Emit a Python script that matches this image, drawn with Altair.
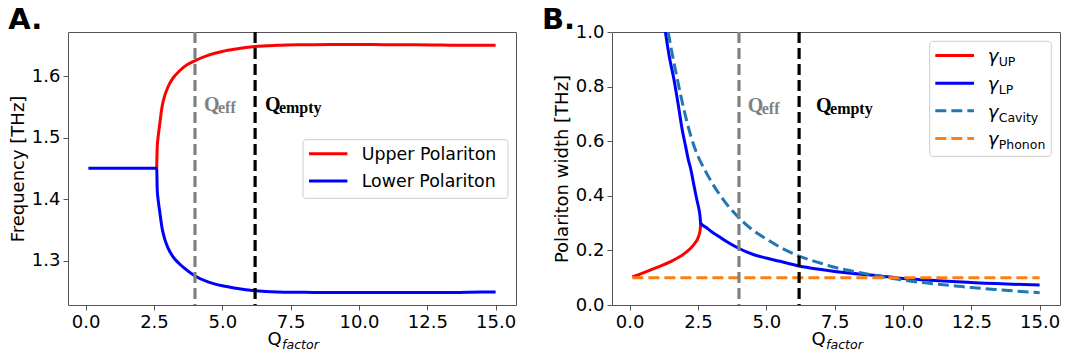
import altair as alt
import pandas as pd

# ---------------- data ----------------
# Panel A : polariton frequencies
q_flat = [0.1, 1.0, 2.0, 2.6]
f_flat = [1.45, 1.45, 1.45, 1.45]
q_split = [2.6, 2.62, 2.65, 2.7, 2.8, 2.9, 3.0, 3.2, 3.4, 3.6, 4.0, 4.5, 5.0, 5.5,
           6.2, 7.0, 8.0, 9.0, 10.0, 11.0, 12.0, 13.0, 14.0, 15.0]
f_upper = [1.450, 1.485, 1.500, 1.518, 1.551, 1.569, 1.581, 1.597, 1.607, 1.615,
           1.625, 1.634, 1.640, 1.644, 1.648, 1.650, 1.651, 1.6515, 1.6515, 1.651,
           1.651, 1.6505, 1.650, 1.650]
f_lower = [1.450, 1.415, 1.400, 1.383, 1.352, 1.334, 1.322, 1.306, 1.296, 1.288,
           1.275, 1.265, 1.259, 1.255, 1.251, 1.249, 1.2485, 1.248, 1.248, 1.248,
           1.248, 1.248, 1.2485, 1.249]

# Panel B : widths
q_up = [0.1, 0.5, 1.0, 1.5, 2.0, 2.25, 2.4, 2.5, 2.55, 2.58, 2.6]
g_up = [0.103, 0.118, 0.138, 0.159, 0.188, 0.21, 0.228, 0.245, 0.26, 0.275, 0.30]
q_lp = [1.31, 1.45, 1.62, 1.8, 1.92, 2.05, 2.16, 2.22, 2.35, 2.45, 2.5, 2.57, 2.6,
        2.8, 3.0, 3.25, 3.5, 4.0, 4.5, 5.0, 5.5, 6.2, 7.0, 7.5, 8.0, 9.0, 10.0,
        11.0, 12.0, 12.5, 13.0, 14.0, 15.0]
g_lp = [1.0, 0.91, 0.827, 0.72, 0.644, 0.58, 0.527, 0.505, 0.44, 0.39, 0.368, 0.33,
        0.30, 0.284, 0.268, 0.252, 0.235, 0.207, 0.186, 0.172, 0.16, 0.143, 0.13,
        0.123, 0.117, 0.108, 0.097, 0.091, 0.085, 0.082, 0.08, 0.076, 0.073]
q_cav = [1.41, 1.5, 1.75, 2.0, 2.25, 2.5, 2.75, 3.0, 3.5, 4.0, 4.5, 5.0, 5.5, 6.2,
         7.0, 7.5, 8.0, 9.0, 10.0, 11.0, 12.0, 12.5, 13.0, 14.0, 15.0]
g_cav = [1.0, 0.95, 0.825, 0.71, 0.615, 0.545, 0.495, 0.45, 0.376, 0.319, 0.275,
         0.242, 0.212, 0.179, 0.153, 0.138, 0.127, 0.108, 0.091, 0.079, 0.069,
         0.064, 0.06, 0.052, 0.045]
q_ph = [0.1, 15.0]
g_ph = [0.1, 0.1]

q_eff = 4.0
q_empty = 6.2

x_ticks = [0, 2.5, 5, 7.5, 10, 12.5, 15]
yA_ticks = [1.3, 1.4, 1.5, 1.6]
yB_ticks = [0.0, 0.2, 0.4, 0.6, 0.8, 1.0]

legendA_labels = ["Upper Polariton", "Lower Polariton"]
legendB_main = ["γ", "γ", "γ", "γ"]
legendB_sub = ["UP", "LP", "Cavity", "Phonon"]

# ---------------- styling ----------------
W, H = 448, 273
XDOM = [-0.645, 15.745]
YA_DOM = [1.2278, 1.6717]
YB_DOM = [0.0, 1.0]
FONT = "DejaVu Sans"
SERIF = "Liberation Serif"
RED, BLUE, CAV, PHO = "#ff0000", "#0000ff", "#1f77b4", "#ff7f0e"
LW = 3
DASH = [11, 5]


def xenc():
    return alt.X("q:Q", scale=alt.Scale(domain=XDOM, nice=False, zero=False),
                 axis=alt.Axis(title="", values=x_ticks, format=".1f"))


def yenc(dom, ticks, title):
    return alt.Y("v:Q", scale=alt.Scale(domain=dom, nice=False, zero=False),
                 axis=alt.Axis(title=title, values=ticks, format=".1f"))


def curve(q, v, color, ydom, yt, ytitle, dash=None):
    props = dict(color=color, strokeWidth=LW, clip=True, interpolate="monotone")
    if dash:
        props["strokeDash"] = dash
    df = pd.DataFrame({"q": q, "v": v})
    return alt.Chart(df).mark_line(**props).encode(x=xenc(), y=yenc(ydom, yt, ytitle))


def vline(q, color):
    return alt.Chart(pd.DataFrame({"q": [q]})).mark_rule(
        color=color, strokeWidth=3.2, strokeDash=DASH).encode(x=xenc())


def annot(qx, vy, main, sub, color, ydom, yt, ytitle):
    df = pd.DataFrame({"q": [qx], "v": [vy], "t": [main], "s": [sub]})
    a = alt.Chart(df).mark_text(align="left", baseline="alphabetic", font=SERIF,
                                fontWeight="bold", fontSize=20, color=color).encode(
        x=xenc(), y=yenc(ydom, yt, ytitle), text="t:N")
    b = alt.Chart(df).mark_text(align="left", baseline="alphabetic", font=SERIF,
                                fontWeight="bold", fontSize=16, color=color,
                                dx=14, dy=2).encode(
        x=xenc(), y=yenc(ydom, yt, ytitle), text="s:N")
    return [a, b]


def ptext(x, y, s, size, **kw):
    return alt.Chart(pd.DataFrame({"t": [s]})).mark_text(
        align="left", baseline="alphabetic", fontSize=size, **kw).encode(
        x=alt.value(x), y=alt.value(y), text="t:N")


def box(x0, x1, y0, y1):
    return alt.Chart(pd.DataFrame({"a": [0]})).mark_rect(
        fill="white", fillOpacity=0.8, stroke="#cccccc", strokeWidth=1,
        cornerRadius=3).encode(x=alt.value(x0), x2=alt.value(x1),
                               y=alt.value(y0), y2=alt.value(y1))


def sample(x0, x1, y, color, dash=None):
    props = dict(color=color, strokeWidth=LW)
    if dash:
        props["strokeDash"] = dash
    return alt.Chart(pd.DataFrame({"a": [0]})).mark_rule(**props).encode(
        x=alt.value(x0), x2=alt.value(x1), y=alt.value(y))


def xlabel():
    return [ptext(199.5, 313, "Q", 18, color="black"),
            ptext(214, 316.5, "factor", 12.6, color="black", fontStyle="italic")]


# ---------------- panel A ----------------
ttlA = "Frequency [THz]"
layersA = [
    curve(q_split, f_upper, RED, YA_DOM, yA_ticks, ttlA),
    curve(q_flat + q_split[1:], f_flat + f_lower[1:], BLUE, YA_DOM, yA_ticks, ttlA),
    vline(q_eff, "gray"),
    vline(q_empty, "black"),
]
layersA += annot(4.33, 1.5427, "Q", "eff", "gray", YA_DOM, yA_ticks, ttlA)
layersA += annot(6.56, 1.5427, "Q", "empty", "black", YA_DOM, yA_ticks, ttlA)
layersA.append(box(235, 440, 107.7, 166.3))
for i, (lab, col) in enumerate(zip(legendA_labels, [RED, BLUE])):
    yy = 121.7 + i * 27.3
    layersA.append(sample(241, 279.4, yy, col))
    layersA.append(ptext(293.7, yy + 6.2, lab, 17.4, color="black"))
layersA += xlabel()
layersA.append(ptext(-59.7, -3, "A.", 29, fontWeight="bold", color="black"))
panelA = alt.layer(*layersA).properties(width=W, height=H)

# ---------------- panel B ----------------
ttlB = "Polariton width [THz]"
layersB = [
    curve(q_up, g_up, RED, YB_DOM, yB_ticks, ttlB),
    curve(q_lp, g_lp, BLUE, YB_DOM, yB_ticks, ttlB),
    curve(q_cav, g_cav, CAV, YB_DOM, yB_ticks, ttlB, dash=DASH),
    curve(q_ph, g_ph, PHO, YB_DOM, yB_ticks, ttlB, dash=DASH),
    vline(q_eff, "gray"),
    vline(q_empty, "black"),
]
layersB += annot(4.32, 0.7073, "Q", "eff", "gray", YB_DOM, yB_ticks, ttlB)
layersB += annot(6.82, 0.7073, "Q", "empty", "black", YB_DOM, yB_ticks, ttlB)
layersB.append(box(317.7, 439.3, 9.3, 124.3))
cols = [RED, BLUE, CAV, PHO]
dashes = [None, None, DASH, DASH]
for i in range(4):
    yy = 23.6 + i * 27.6
    layersB.append(sample(323.3, 362, yy, cols[i], dashes[i]))
    layersB.append(ptext(375.7, yy + 6.7, legendB_main[i], 18, color="black",
                         fontStyle="italic"))
    layersB.append(ptext(386.7, yy + 10.7, legendB_sub[i], 12.5, color="black"))
layersB += xlabel()
layersB.append(ptext(-70, -3, "B.", 29, fontWeight="bold", color="black"))
panelB = alt.layer(*layersB).properties(width=W, height=H)

chart = alt.hconcat(panelA, panelB, spacing=24).properties(
    padding={"left": 7, "top": 5, "right": 5, "bottom": 5},
    background="white",
).configure(font=FONT).configure_view(
    stroke="#555555", strokeWidth=1
).configure_axis(
    grid=False, domain=False, tickColor="#555555", tickSize=5, tickWidth=1,
    labelFontSize=18, labelColor="black", labelFont=FONT, labelPadding=3,
    labelFlush=False, labelOverlap=False,
    titleFontSize=18, titleFontWeight="normal", titleColor="black", titleFont=FONT,
    titlePadding=4,
)

chart.save("out.html", embed_options={"renderer": "svg", "actions": False})
